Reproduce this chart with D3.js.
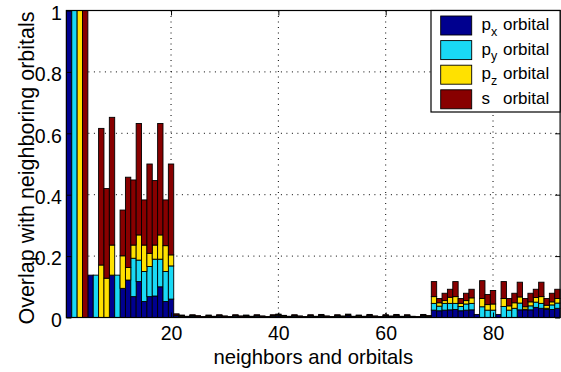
<!DOCTYPE html>
<html>
<head>
<meta charset="utf-8">
<script src="https://cdn.jsdelivr.net/npm/d3@7"></script>
<style>
  body { margin: 0; background: #fff; }
  text { font-family: "Liberation Sans", Arial, Helvetica, sans-serif; fill: #000; }
</style>
</head>
<body>
<svg id="chart" width="561" height="372"></svg>
<script>
// Overlap of one orbital with the orbitals of its neighbours, split by orbital type.
const orbitalKeys = ["px", "py", "pz", "s"];
const legendBase = ["p", "p", "p", "s"];
const legendSub = ["x", "y", "z", ""];
const barColors = ["#00008f", "#19d9f5", "#ffe100", "#880000"];
const xTicks = [20, 40, 60, 80];
const yTicks = [0, 0.2, 0.4, 0.6, 0.8, 1];

// neighbours/orbitals 1..92
const px = [
  1, 0, 0, 0, 0.138, 0, 0, 0, 0.138, 0,
  0.095, 0.122, 0.068, 0.117, 0.052, 0.068, 0.07, 0.10, 0.052, 0.06,
  0.006, 0.003, 0.002, 0.004, 0.002, 0.001, 0.003, 0.002, 0.004, 0.002,
  0.001, 0.004, 0.002, 0.003, 0.002, 0.004, 0.002, 0.001, 0.004, 0.005,
  0.003, 0.002, 0.004, 0.002, 0.001, 0.004, 0.002, 0.004, 0.002, 0.001,
  0.004, 0.002, 0.005, 0.002, 0.003, 0.002, 0.004, 0.002, 0.001, 0.004,
  0.002, 0.004, 0.002, 0.004, 0.002, 0.001, 0.004, 0.003, 0.024, 0.022,
  0.024, 0.025, 0.026, 0.022, 0.024, 0.025, 0.01, 0, 0, 0,
  0.01, 0, 0, 0, 0.025, 0.025, 0.025, 0.033, 0.03, 0.026,
  0.026, 0.03
];
const py = [
  0, 1, 0, 0, 0, 0.138, 0, 0, 0, 0.138,
  0, 0, 0.125, 0.07, 0.098, 0.098, 0.12, 0.09, 0.098, 0.108,
  0.001, 0.001, 0, 0.001, 0.001, 0, 0.001, 0.001, 0.002, 0.001,
  0.001, 0.002, 0.001, 0.002, 0.001, 0.002, 0.001, 0, 0.001, 0.002,
  0.001, 0, 0.001, 0.001, 0, 0.001, 0, 0.001, 0.001, 0,
  0.001, 0, 0.001, 0, 0.001, 0, 0.001, 0.001, 0, 0.001,
  0, 0.001, 0, 0.001, 0, 0, 0.001, 0.001, 0.022, 0.015,
  0.022, 0.021, 0.02, 0.014, 0.02, 0.021, 0, 0.035, 0.024, 0.024,
  0, 0.036, 0.024, 0.03, 0.022, 0.002, 0.013, 0.017, 0.016, 0.004,
  0.015, 0.017
];
const pz = [
  0, 0, 1, 0, 0, 0, 0.171, 0.128, 0.098, 0,
  0.106, 0.041, 0.043, 0.082, 0.086, 0.043, 0.046, 0.079, 0.084, 0.036,
  0.001, 0.001, 0.001, 0.001, 0.001, 0.001, 0.001, 0, 0.001, 0.001,
  0, 0.001, 0.001, 0.001, 0, 0.001, 0.001, 0.001, 0.002, 0.002,
  0.001, 0.001, 0.002, 0.001, 0.001, 0.002, 0.001, 0.002, 0.001, 0.001,
  0.002, 0.001, 0.002, 0.001, 0.002, 0.001, 0.002, 0.001, 0.001, 0.002,
  0.001, 0.002, 0.001, 0.002, 0.001, 0.001, 0.002, 0.001, 0.022, 0.011,
  0.009, 0.02, 0.022, 0.01, 0.011, 0.018, 0, 0.027, 0.018, 0.02,
  0, 0.026, 0.014, 0.018, 0.02, 0.008, 0.013, 0.015, 0.022, 0.01,
  0.01, 0.015
];
const s = [
  0, 0, 0, 1, 0, 0, 0.445, 0.292, 0.416, 0,
  0.149, 0.294, 0.212, 0.363, 0.147, 0.291, 0.21, 0.363, 0.149, 0.296,
  0.004, 0.003, 0.001, 0.003, 0.002, 0.001, 0.003, 0.001, 0.002, 0.001,
  0.001, 0.002, 0.001, 0.002, 0.001, 0.002, 0.001, 0.001, 0.002, 0.002,
  0.002, 0.001, 0.002, 0.001, 0.001, 0.002, 0.001, 0.003, 0.001, 0.001,
  0.002, 0.002, 0.003, 0.001, 0.002, 0.001, 0.003, 0.001, 0.001, 0.002,
  0.002, 0.003, 0.001, 0.002, 0.001, 0.001, 0.003, 0.001, 0.049, 0.014,
  0.024, 0.026, 0.049, 0.016, 0.024, 0.028, 0, 0.058, 0.033, 0.044,
  0, 0.055, 0.024, 0.031, 0.048, 0.027, 0.028, 0.027, 0.047, 0.022,
  0.028, 0.03
];

const rows = px.map((v, i) => ({ n: i + 1, px: v, py: py[i], pz: pz[i], s: s[i] }));

const svg = d3.select("#chart");
const plotL = 66.4, plotR = 560.1, plotT = 10.5, plotB = 317.5;

const x = d3.scaleLinear().domain([0.5, 92.5]).range([plotL, plotR]);
const y = d3.scaleLinear().domain([0, 1]).range([plotB, plotT]);

// dotted grid underneath the bars
const grid = svg.append("g").attr("stroke", "#000").attr("stroke-width", 1)
  .attr("stroke-dasharray", "1,4.5");
grid.selectAll(".gx").data(xTicks).join("line")
  .attr("x1", d => x(d)).attr("x2", d => x(d)).attr("y1", plotT).attr("y2", plotB);
grid.selectAll(".gy").data(yTicks.filter(d => d > 0 && d < 1)).join("line")
  .attr("x1", plotL).attr("x2", plotR).attr("y1", d => y(d)).attr("y2", d => y(d));

// stacked bars
const series = d3.stack().keys(orbitalKeys)(rows);
svg.append("g").selectAll("g").data(series).join("g")
  .attr("fill", (d, i) => barColors[i])
  .selectAll("rect")
  .data(d => d.filter(p => p[1] - p[0] > 0))
  .join("rect")
  .attr("x", p => x(p.data.n - 0.5))
  .attr("width", p => x(p.data.n + 0.5) - x(p.data.n - 0.5))
  .attr("y", p => y(p[1]))
  .attr("height", p => y(p[0]) - y(p[1]))
  .attr("stroke", "#000")
  .attr("stroke-width", 0.9);

// axes with inward ticks
const fontSize = 19.5;
const xAxis = svg.append("g").attr("transform", `translate(0,${plotB})`)
  .call(d3.axisBottom(x).tickValues(xTicks).tickSize(-5).tickPadding(9));
const xTop = svg.append("g").attr("transform", `translate(0,${plotT})`)
  .call(d3.axisTop(x).tickValues(xTicks).tickSize(-5).tickFormat(""));
const yAxis = svg.append("g").attr("transform", `translate(${plotL},0)`)
  .call(d3.axisLeft(y).tickValues(yTicks).tickSize(-5).tickPadding(4.5)
    .tickFormat(d => d3.format("~g")(d)));
const yRight = svg.append("g").attr("transform", `translate(${plotR},0)`)
  .call(d3.axisRight(y).tickValues(yTicks).tickSize(-5).tickFormat(""));
[xAxis, xTop, yAxis, yRight].forEach(g => {
  g.select(".domain").remove();
  g.selectAll(".tick line").attr("stroke", "#000");
  g.selectAll("text").attr("font-size", fontSize).attr("font-family", null);
});
yAxis.selectAll("text").attr("dy", "0.45em");

// axes box
svg.append("rect").attr("x", plotL).attr("y", plotT)
  .attr("width", plotR - plotL).attr("height", plotB - plotT)
  .attr("fill", "none").attr("stroke", "#000").attr("stroke-width", 1.2);

// axis titles
svg.append("text").attr("x", (plotL + plotR) / 2).attr("y", 363.5)
  .attr("text-anchor", "middle").attr("font-size", 20.3)
  .text("neighbors and orbitals");
svg.append("text")
  .attr("transform", `translate(34,${(plotT + plotB) / 2 + 4}) rotate(-90)`)
  .attr("text-anchor", "middle").attr("font-size", 21.5)
  .text("Overlap with neighboring orbitals");

// legend
const legend = svg.append("g");
legend.append("rect").attr("x", 431).attr("y", plotT)
  .attr("width", plotR - 431).attr("height", 101.5)
  .attr("fill", "#fff").attr("stroke", "#000").attr("stroke-width", 1.2);
const items = legend.selectAll(".item").data(orbitalKeys).join("g")
  .attr("transform", (d, i) => `translate(0,${16 + i * 24.6})`);
items.append("rect").attr("x", 440.7).attr("y", 0).attr("width", 31).attr("height", 19)
  .attr("fill", (d, i) => barColors[i]).attr("stroke", "#000").attr("stroke-width", 0.9);
items.append("text").attr("x", 481.5).attr("y", 14).attr("font-size", 17)
  .text((d, i) => legendBase[i]);
items.append("text").attr("x", 491).attr("y", 19.5).attr("font-size", 12.5)
  .text((d, i) => legendSub[i]);
items.append("text").attr("x", 503).attr("y", 14).attr("font-size", 17)
  .text("orbital");
</script>
</body>
</html>
